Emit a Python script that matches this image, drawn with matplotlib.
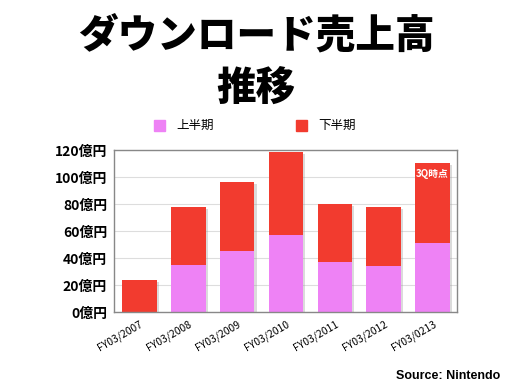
import matplotlib
matplotlib.use("Agg")
import matplotlib.pyplot as plt
import matplotlib.transforms as mtransforms
import numpy as np

plt.rcParams['font.family'] = ['Noto Sans CJK JP', 'DejaVu Sans']

# data (億円)
years = ["FY03/2007", "FY03/2008", "FY03/2009", "FY03/2010",
         "FY03/2011", "FY03/2012", "FY03/0213"]
first_half = [0, 35, 45, 57, 37, 34, 51]
second_half = [24, 43, 51, 61.5, 43, 44, 59.5]
yticks = [0, 20, 40, 60, 80, 100, 120]

PINK = "#EE82F5"
RED = "#F23B2F"

fig = plt.figure(figsize=(5.12, 3.84), dpi=100)
ax = fig.add_axes([114/512, 1 - 312/384, (457 - 114)/512, (312 - 150)/384])

x = np.arange(len(years))
totals = np.array(first_half) + np.array(second_half)

# soft drop shadow behind each whole stack
shift = mtransforms.offset_copy(ax.transData, fig=fig, x=1.5, y=-1.5, units="points")
ax.bar(x, totals, width=0.71, color="#999999", alpha=0.35, zorder=2,
       transform=shift, clip_on=True)
ax.bar(x, first_half, width=0.71, color=PINK, zorder=3)
ax.bar(x, second_half, width=0.71, bottom=first_half, color=RED, zorder=3)

ax.set_xlim(-0.52, 6.5)
ax.set_ylim(0, 120)
ax.set_yticks(yticks)
ax.set_yticklabels([f"{v}億円" for v in yticks], fontsize=10, fontweight="bold")
ax.set_xticks(x)
ax.set_xticklabels(years, rotation=30, ha="right", rotation_mode="anchor", fontsize=7.5)
ax.tick_params(length=0, pad=5)
ax.yaxis.grid(True, color="#DDDDDD", linewidth=0.8, zorder=0)
for s in ax.spines.values():
    s.set_color("#888888")
    s.set_linewidth(1)
    s.set_zorder(5)

ax.text(x[-1], totals[-1] - 8, "3Q時点", color="white",
        fontsize=7, fontweight="bold", ha="center", va="center", zorder=4)

# title
fig.text(0.5, 1 - 36/384, "ダウンロード売上高", fontsize=28.5, fontweight="black",
         ha="center", va="center")
fig.text(0.5, 1 - 89/384, "推移", fontsize=28.5, fontweight="black",
         ha="center", va="center")

# legend
fig.patches.append(plt.Rectangle((154/512, 1 - 131/384), 11/512, 11/384,
                                 transform=fig.transFigure, color=PINK))
fig.text(176/512, 1 - 125/384, "上半期", fontsize=9, va="center")
fig.patches.append(plt.Rectangle((296/512, 1 - 131/384), 11/512, 11/384,
                                 transform=fig.transFigure, color=RED))
fig.text(318/512, 1 - 125/384, "下半期", fontsize=9, va="center")

fig.text(500/512, 1 - 376/384, "Source: Nintendo", fontsize=9, fontweight="bold",
         ha="right", va="center", family=["Liberation Sans", "DejaVu Sans"])

fig.savefig("out.png", dpi=100)
